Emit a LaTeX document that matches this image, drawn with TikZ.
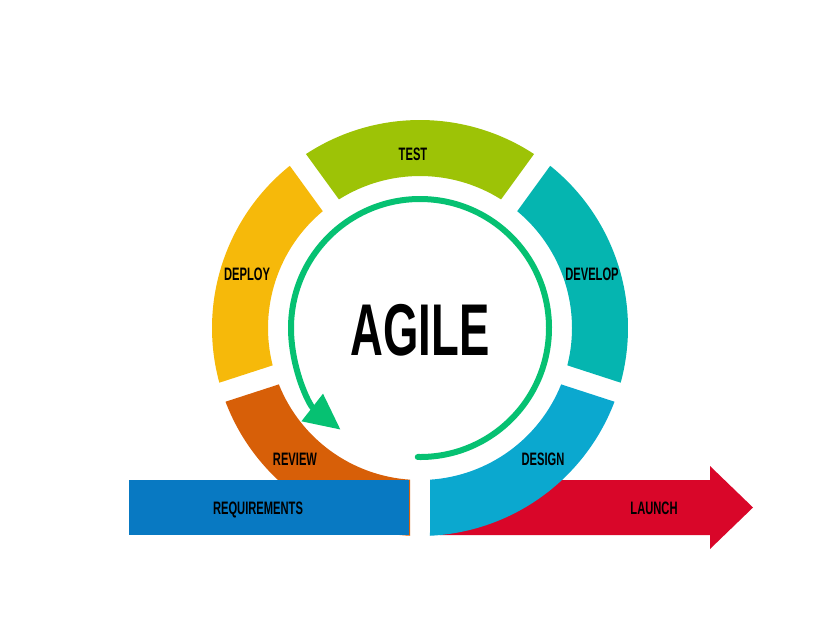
\documentclass[tikz,border=0pt]{standalone}
\usepackage{fontspec}
\usetikzlibrary{arrows.meta}
\newfontfamily\dinfont[FakeStretch=0.62]{Liberation Sans}
\definecolor{testgreen}{RGB}{157,195,6}
\definecolor{developteal}{RGB}{5,181,176}
\definecolor{designblue}{RGB}{11,168,207}
\definecolor{deployyellow}{RGB}{246,185,10}
\definecolor{revieworange}{RGB}{215,95,8}
\definecolor{reqblue}{RGB}{8,121,194}
\definecolor{launchred}{RGB}{217,6,41}
\definecolor{cyclegreen}{RGB}{6,193,114}

\tikzset{every picture/.style={line width=0.75pt}}
\tikzset{
  lbl/.style={inner sep=0.75pt, text height=9.8pt, text depth=0pt, font=\dinfont\bfseries\fontsize{13.5}{15}\selectfont},
  biglbl/.style={inner sep=0.75pt, text height=39.5pt, text depth=0pt, font=\dinfont\bfseries\fontsize{55}{60}\selectfont},
}
% ring segment: colour, from angle, to angle (gap of 20 between segments)
\newcommand{\ringseg}[3]{%
  \fill[#1] ({#2+asin(10/208)}:208) arc[start angle={#2+asin(10/208)}, end angle={#3-asin(10/208)}, radius=208]
    -- ({#3-asin(10/152)}:152) arc[start angle={#3-asin(10/152)}, end angle={#2+asin(10/152)}, radius=152] -- cycle;}

\begin{document}
\begin{tikzpicture}[x=0.75pt,y=0.75pt,yscale=-1,xscale=1]
    \useasboundingbox (0,0) rectangle (828,622);
    %Shape: Right Arrow [id:launch] 
    \fill[launchred] (440,480) -- (710,480) -- (710,466) -- (753,507.5) -- (710,549) -- (710,535) -- (440,535) -- cycle ;
    %Shape: Ring segments
    \begin{scope}[shift={(420,328)},yscale=-1]
    \ringseg{testgreen}{54}{126}
    \ringseg{deployyellow}{126}{198}
    \ringseg{revieworange}{198}{270}
    \ringseg{designblue}{270}{342}
    \ringseg{developteal}{-18}{54}
    %Arc with arrow [id:cycle] 
    \draw[cyclegreen, line width=4.5pt, line cap=round, -{Triangle[length=27pt,width=25pt]}] (-91:129) arc[start angle=-91, end angle=232, radius=129] ;
    \end{scope}
    %Shape: Rectangle [id:requirements] 
    \fill[reqblue] (129,480) rectangle (409,535) ;
    % Text Node
    \draw (420,329) node (agile) [biglbl]  {AGILE};
    % Text Node
    \draw (413,154) node (test) [lbl]  {TEST};
    % Text Node
    \draw (247,274) node (deploy) [lbl]  {DEPLOY};
    % Text Node
    \draw (592,274) node (develop) [lbl]  {DEVELOP};
    % Text Node
    \draw (295,459) node (review) [lbl]  {REVIEW};
    % Text Node
    \draw (543,459) node (design) [lbl]  {DESIGN};
    % Text Node
    \draw (258,508) node (requirements) [lbl]  {REQUIREMENTS};
    % Text Node
    \draw (654,508) node (launch) [lbl]  {LAUNCH};
\end{tikzpicture}
\end{document}
